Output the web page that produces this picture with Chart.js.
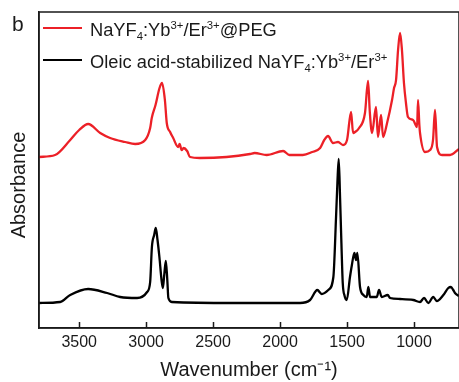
<!DOCTYPE html>
<html>
<head>
<meta charset="utf-8">
<script src="https://cdn.jsdelivr.net/npm/chart.js@4.4.1/dist/chart.umd.min.js"></script>
<style>
  html, body { margin: 0; padding: 0; background: #fff; }
</style>
</head>
<body>
<canvas id="ftir" width="459" height="382"></canvas>
<script>
  // FTIR spectra, values (absorbance in arbitrary units, offset)
  const pegLabel = 'NaYF₄:Yb³⁺/Er³⁺@PEG';
  const pegWave = [3800, 3680, 3567, 3500, 3433, 3343, 3269, 3157, 3082, 3007, 2970, 2958, 2930, 2900, 2881,
    2860, 2846, 2821, 2798, 2761, 2750, 2735, 2720, 2694, 2672, 2600, 2400, 2224, 2190, 2100, 1977, 1930,
    1830, 1760, 1701, 1670, 1642, 1605, 1567, 1530, 1500, 1470, 1455, 1440, 1410, 1366, 1343, 1330, 1313,
    1284, 1269, 1246, 1231, 1201, 1164, 1149, 1134, 1119, 1104, 1090, 1075, 1060, 1045, 1007, 977, 970,
    960, 955, 918, 880, 858, 843, 828, 791, 731, 664];
  const pegAbs = [1.71, 1.73, 1.88, 1.98, 2.04, 1.95, 1.90, 1.86, 1.84, 1.88, 2.00, 2.10, 2.23, 2.40, 2.45,
    2.28, 2.05, 1.96, 1.90, 1.81, 1.84, 1.78, 1.80, 1.77, 1.71, 1.70, 1.71, 1.74, 1.75, 1.73, 1.77, 1.73,
    1.73, 1.76, 1.80, 1.88, 1.92, 1.85, 1.86, 1.83, 1.88, 2.16, 1.95, 1.96, 2.00, 2.15, 2.47, 2.16, 1.95,
    2.21, 1.91, 2.13, 1.91, 2.05, 2.28, 2.40, 2.48, 2.78, 2.95, 2.78, 2.45, 2.25, 2.11, 2.08, 2.01, 2.28,
    2.03, 1.95, 1.76, 1.78, 1.88, 2.18, 1.81, 1.73, 1.73, 1.79];

  const oaLabel = 'Oleic acid-stabilized NaYF₄:Yb³⁺/Er³⁺';
  const oaWave = [3800, 3642, 3567, 3433, 3291, 3194, 3067, 2993, 2970, 2957, 2940, 2928, 2915, 2901, 2885,
    2875, 2865, 2853, 2842, 2834, 2808, 2351, 1851, 1776, 1722, 1689, 1640, 1602, 1582, 1572, 1562, 1552,
    1542, 1532, 1518, 1502, 1478, 1465, 1445, 1433, 1423, 1403, 1378, 1353, 1341, 1328, 1278, 1261, 1241,
    1196, 1179, 1104, 1005, 955, 925, 893, 856, 830, 781, 744, 724, 707, 694, 664];
  const oaAbs = [0.25, 0.26, 0.33, 0.39, 0.35, 0.31, 0.30, 0.36, 0.46, 0.81, 0.93, 1.00, 0.88, 0.71, 0.48,
    0.40, 0.53, 0.67, 0.48, 0.30, 0.26, 0.25, 0.25, 0.28, 0.38, 0.34, 0.38, 0.51, 1.11, 1.45, 1.69, 1.30,
    0.85, 0.45, 0.32, 0.28, 0.51, 0.62, 0.75, 0.68, 0.75, 0.41, 0.33, 0.31, 0.41, 0.31, 0.31, 0.38, 0.31,
    0.33, 0.30, 0.29, 0.28, 0.26, 0.30, 0.25, 0.31, 0.27, 0.33, 0.40, 0.41, 0.38, 0.35, 0.32];

  const xTicks = [3500, 3000, 2500, 2000, 1500, 1000];
  const yTitle = 'Absorbance';

  const FONT = "'Liberation Sans', Arial, sans-serif";
  const INK = '#1a1a1a';

  function pts(xs, ys) {
    return xs.map((x, i) => ({ x: x, y: ys[i] }));
  }

  // draws a string, rendering ₄ as subscript and ³⁺⁻¹ as superscript
  const subMap = { '₄': '4' };
  const supMap = { '³': '3', '⁺': '+', '⁻': '-', '¹': '1' };
  function richText(ctx, str, x, y, size) {
    let cx = x;
    for (const ch of str) {
      if (subMap[ch]) {
        ctx.font = (size * 0.62) + 'px ' + FONT;
        ctx.fillText(subMap[ch], cx, y + size * 0.22);
        cx += ctx.measureText(subMap[ch]).width;
      } else if (supMap[ch]) {
        ctx.font = (size * 0.62) + 'px ' + FONT;
        ctx.fillText(supMap[ch], cx, y - size * 0.4);
        cx += ctx.measureText(supMap[ch]).width;
      } else {
        ctx.font = size + 'px ' + FONT;
        ctx.fillText(ch, cx, y);
        cx += ctx.measureText(ch).width;
      }
    }
  }

  const decor = {
    id: 'decor',
    afterDraw(chart) {
      const ctx = chart.ctx;
      const a = chart.chartArea;
      const xs = chart.scales.x;
      ctx.save();
      // frame
      ctx.strokeStyle = INK;
      ctx.lineWidth = 1.5;
      ctx.strokeRect(a.left, a.top, a.right - a.left, a.bottom - a.top);
      // inward ticks
      ctx.beginPath();
      xTicks.forEach(v => {
        const px = Math.round(xs.getPixelForValue(v)) + 0.5;
        ctx.moveTo(px, a.bottom);
        ctx.lineTo(px, a.bottom - 6);
      });
      ctx.stroke();
      ctx.fillStyle = INK;
      ctx.textBaseline = 'alphabetic';
      // panel letter
      ctx.font = '21px ' + FONT;
      ctx.fillText('b', 12, 31);
      // y title (sits a bit below the axis centre in the original)
      ctx.save();
      ctx.translate(25, 185);
      ctx.rotate(-Math.PI / 2);
      ctx.textAlign = 'center';
      ctx.font = '20px ' + FONT;
      ctx.fillText(yTitle, 0, 0);
      ctx.restore();
      // legend
      chart.data.datasets.forEach((ds, i) => {
        const ly = 28 + 32 * i;
        ctx.strokeStyle = ds.borderColor;
        ctx.lineWidth = 2;
        ctx.beginPath();
        ctx.moveTo(43, ly);
        ctx.lineTo(82, ly);
        ctx.stroke();
        ctx.fillStyle = INK;
        richText(ctx, ds.label, 90, ly + 8, 18.3);
      });
      ctx.restore();
    }
  };

  new Chart(document.getElementById('ftir'), {
    type: 'line',
    data: {
      datasets: [
        {
          label: pegLabel,
          data: pts(pegWave, pegAbs),
          borderColor: 'rgb(236, 32, 39)',
          borderWidth: 2.3,
          pointRadius: 0,
          cubicInterpolationMode: 'monotone',
          fill: false
        },
        {
          label: oaLabel,
          data: pts(oaWave, oaAbs),
          borderColor: '#000000',
          borderWidth: 2.3,
          pointRadius: 0,
          cubicInterpolationMode: 'monotone',
          fill: false
        }
      ]
    },
    options: {
      responsive: false,
      animation: false,
      devicePixelRatio: 1,
      layout: { padding: { top: 12, right: 0, left: 0, bottom: 0 } },
      plugins: { legend: { display: false }, tooltip: { enabled: false } },
      scales: {
        x: {
          type: 'linear',
          reverse: true,
          min: 664,
          max: 3800,
          afterBuildTicks: s => { s.ticks = xTicks.map(v => ({ value: v })); },
          afterFit: s => { s.height = 54; },
          grid: { drawOnChartArea: false, drawTicks: false },
          border: { color: INK, width: 1.5 },
          ticks: {
            padding: 5,
            color: INK,
            font: { family: FONT, size: 16 },
            maxRotation: 0,
            callback: v => String(v)
          },
          title: {
            display: true,
            text: 'Wavenumber (cm⁻¹)',
            color: INK,
            font: { family: FONT, size: 20 },
            padding: { top: 2, bottom: 0 }
          }
        },
        y: {
          min: 0,
          max: 3.16,
          afterFit: s => { s.width = 39; },
          grid: { drawOnChartArea: false, drawTicks: false },
          border: { color: INK, width: 1.5 },
          ticks: { display: false },
          title: { display: false }
        }
      }
    },
    plugins: [decor]
  });
</script>
</body>
</html>
